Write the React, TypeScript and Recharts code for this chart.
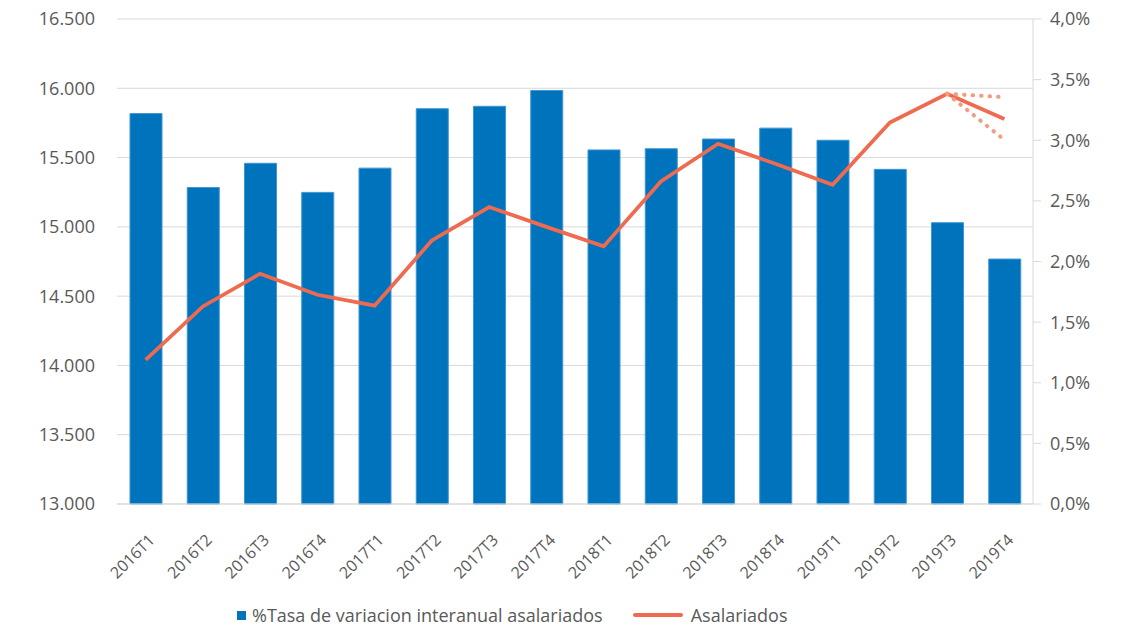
import {
  ComposedChart,
  Bar,
  Line,
  XAxis,
  YAxis,
  CartesianGrid,
  Legend,
} from "recharts";

const quarters = [
  "2016T1", "2016T2", "2016T3", "2016T4",
  "2017T1", "2017T2", "2017T3", "2017T4",
  "2018T1", "2018T2", "2018T3", "2018T4",
  "2019T1", "2019T2", "2019T3", "2019T4",
];

// % tasa de variación interanual (eje derecho)
const tasaVariacion = [
  3.22, 2.61, 2.81, 2.57, 2.77, 3.26, 3.28, 3.41,
  2.92, 2.93, 3.01, 3.10, 3.0, 2.76, 2.32, 2.02,
];

// asalariados, miles (eje izquierdo)
const asalariados = [
  14040, 14426, 14662, 14510, 14431, 14902, 15143, 15000,
  14859, 15328, 15600, 15455, 15304, 15753, 15960, 15778,
];

// previsiones punteadas 2019T3 -> 2019T4
const previsionAlta = [
  null, null, null, null, null, null, null, null,
  null, null, null, null, null, null, 15960, 15936,
];
const previsionBaja = [
  null, null, null, null, null, null, null, null,
  null, null, null, null, null, null, 15960, 15628,
];

const leftTicks = [13000, 13500, 14000, 14500, 15000, 15500, 16000, 16500];
const rightTicks = [0, 0.5, 1, 1.5, 2, 2.5, 3, 3.5, 4];

const BLUE = "#0073BD";
const ORANGE = "#EF6A4E";
const ORANGE_LIGHT = "#F39C80";
const GRID = "#D9D9D9";
const TEXT = "#595959";
const FONT = "'Open Sans', sans-serif";

const data = quarters.map((q, i) => ({
  quarter: q,
  tasa: tasaVariacion[i],
  asalariados: asalariados[i],
  alta: previsionAlta[i],
  baja: previsionBaja[i],
}));

const fmtMiles = (v: number) =>
  `${Math.floor(v / 1000)}.${String(v % 1000).padStart(3, "0")}`;
const fmtPct = (v: number) => `${v.toFixed(1).replace(".", ",")}%`;

function QuarterTick({ x, y, payload }: any) {
  return (
    <g transform={`translate(${x + 10},${y + 37})`}>
      <text
        textAnchor="end"
        transform="rotate(-45)"
        fill={TEXT}
        fontSize={16}
        fontFamily={FONT}
      >
        {payload.value}
      </text>
    </g>
  );
}

function ChartLegend({ payload }: any) {
  const items = (payload || []).filter((p: any) => p.type !== "none");
  return (
    <div
      style={{
        display: "flex",
        alignItems: "center",
        height: 30,
        fontSize: 18,
        color: TEXT,
        fontFamily: FONT,
        whiteSpace: "nowrap",
      }}
    >
      {items.map((p: any) => (
        <div
          key={p.value}
          style={{ display: "flex", alignItems: "center", marginRight: 30 }}
        >
          {p.type === "square" ? (
            <span
              style={{ width: 9, height: 9, background: BLUE, marginRight: 6 }}
            />
          ) : (
            <span
              style={{
                width: 50,
                height: 4,
                background: ORANGE,
                borderRadius: 2,
                marginRight: 8,
              }}
            />
          )}
          <span>{p.value}</span>
        </div>
      ))}
    </div>
  );
}

export default function App() {
  return (
    <div
      style={{
        position: "absolute",
        left: 0,
        top: 0,
        width: 1124,
        height: 630,
        background: "#fff",
        fontFamily: FONT,
      }}
    >
      <ComposedChart
        width={1124}
        height={630}
        data={data}
        margin={{ top: 19, right: 0, bottom: 0, left: 0 }}
      >
        <CartesianGrid yAxisId="left" vertical={false} stroke={GRID} />
        <XAxis
          dataKey="quarter"
          interval={0}
          height={96}
          axisLine={{ stroke: GRID }}
          tickLine={false}
          tickSize={0}
          tickMargin={0}
          tick={<QuarterTick />}
        />
        <YAxis
          yAxisId="left"
          domain={[13000, 16500]}
          ticks={leftTicks}
          interval={0}
          width={117}
          axisLine={false}
          tickLine={false}
          tickSize={0}
          tickMargin={22}
          tickFormatter={fmtMiles}
          tick={{ fill: TEXT, fontSize: 18, fontFamily: FONT }}
        />
        <YAxis
          yAxisId="right"
          orientation="right"
          domain={[0, 4]}
          ticks={rightTicks}
          interval={0}
          width={91}
          axisLine={{ stroke: GRID }}
          tickLine={{ stroke: GRID }}
          tickSize={8}
          tickMargin={9}
          tickFormatter={fmtPct}
          tick={{ fill: TEXT, fontSize: 18, fontFamily: FONT }}
        />
        <Bar
          yAxisId="right"
          dataKey="tasa"
          name="%Tasa de variacion interanual asalariados"
          legendType="square"
          fill={BLUE}
          stroke="#3D95D4"
          strokeWidth={1}
          barSize={32}
          isAnimationActive={false}
        />
        <Line
          yAxisId="left"
          dataKey="asalariados"
          name="Asalariados"
          legendType="line"
          stroke={ORANGE}
          strokeWidth={3.75}
          dot={false}
          activeDot={false}
          isAnimationActive={false}
        />
        <Line
          yAxisId="left"
          dataKey="alta"
          legendType="none"
          stroke={ORANGE_LIGHT}
          strokeWidth={4}
          strokeDasharray="0.5 8"
          strokeLinecap="round"
          dot={false}
          activeDot={false}
          isAnimationActive={false}
        />
        <Line
          yAxisId="left"
          dataKey="baja"
          legendType="none"
          stroke={ORANGE_LIGHT}
          strokeWidth={4}
          strokeDasharray="0.5 8"
          strokeLinecap="round"
          dot={false}
          activeDot={false}
          isAnimationActive={false}
        />
        <Legend
          verticalAlign="bottom"
          content={<ChartLegend />}
          wrapperStyle={{ left: 237, top: 600, width: 700, height: 30 }}
        />
      </ComposedChart>
    </div>
  );
}
